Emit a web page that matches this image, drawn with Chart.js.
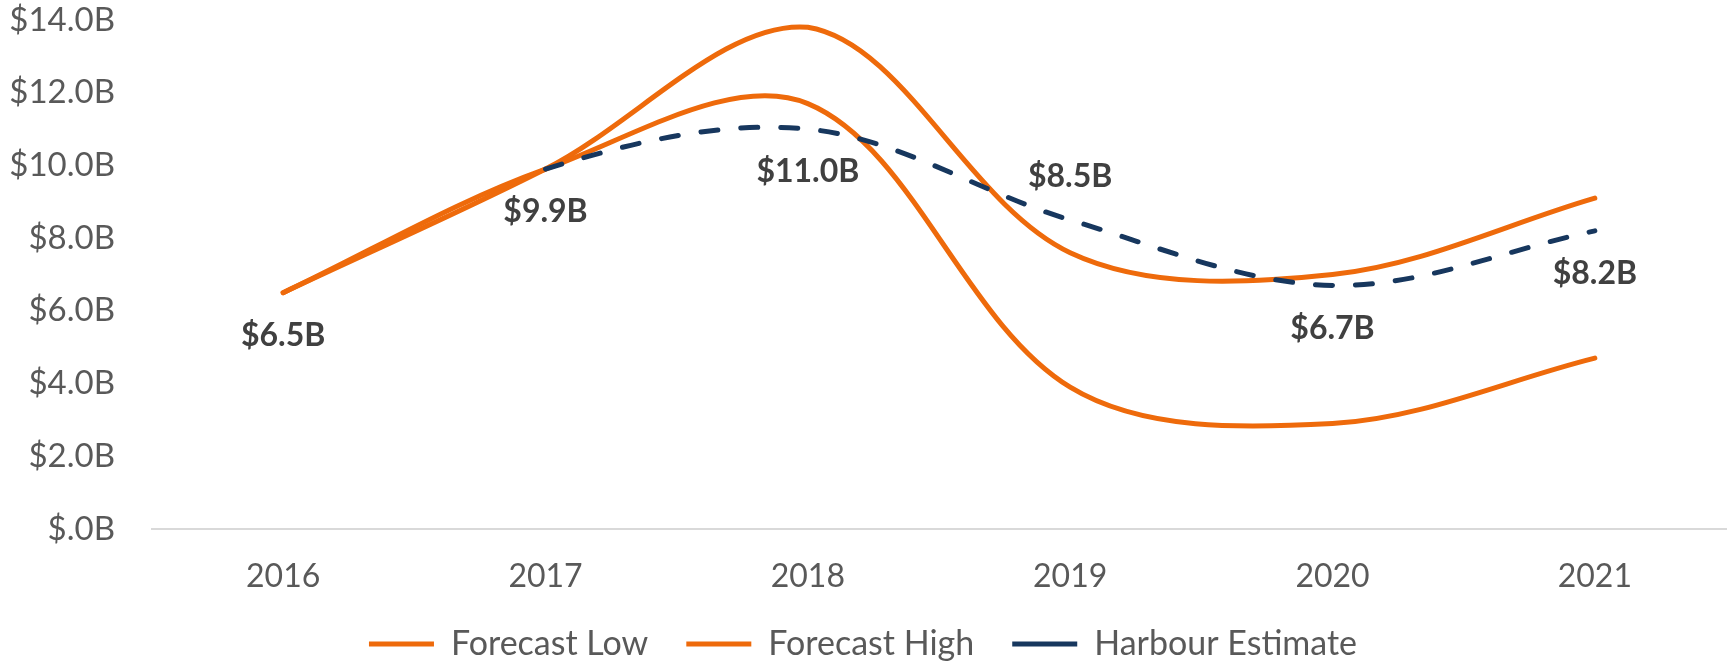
<!DOCTYPE html>
<html>
<head>
<meta charset="utf-8">
<script src="https://cdn.jsdelivr.net/npm/chart.js@4.4.1/dist/chart.umd.min.js"></script>
<style>
html,body{margin:0;padding:0;background:#ffffff;}
#wrap{width:1734px;height:664px;position:relative;}
</style>
</head>
<body>
<div id="wrap"><canvas id="c" width="1734" height="664"></canvas></div>
<script>
const categories = ['2016', '2017', '2018', '2019', '2020', '2021'];
const forecastLow = [6.5, 9.9, 11.7, 3.9, 2.9, 4.7];
const forecastHigh = [6.5, 9.9, 13.8, 7.6, 7.0, 9.1];
const harbourEstimate = [6.5, 9.9, 11.0, 8.5, 6.7, 8.2];
const yTickLabels = ['$.0B', '$2.0B', '$4.0B', '$6.0B', '$8.0B', '$10.0B', '$12.0B', '$14.0B'];
const seriesNames = ['Forecast Low', 'Forecast High', 'Harbour Estimate'];

const ORANGE = '#EE6A0B';
const NAVY = '#17375E';

const valueLabels = {
  id: 'valueLabels',
  afterDatasetsDraw(chart, args, opts) {
    const ds = chart.data.datasets[opts.datasetIndex];
    const meta = chart.getDatasetMeta(opts.datasetIndex);
    const ctx = chart.ctx;
    ctx.save();
    ctx.font = opts.font;
    ctx.fillStyle = opts.color;
    ctx.textAlign = 'center';
    ctx.textBaseline = 'middle';
    meta.data.forEach((pt, i) => {
      const v = ds.data[i];
      if (v === null || v === undefined) return;
      const dy = opts.above.includes(i) ? -opts.offset : opts.offset;
      ctx.fillText('$' + v.toFixed(1) + 'B', pt.x, pt.y + dy);
    });
    ctx.restore();
  }
};

Chart.defaults.font.family = 'Lato';

new Chart(document.getElementById('c'), {
  type: 'line',
  data: {
    labels: categories,
    datasets: [
      {
        label: seriesNames[0],
        data: forecastLow,
        borderColor: ORANGE,
        backgroundColor: ORANGE,
        borderWidth: 5,
        borderCapStyle: 'round',
        borderJoinStyle: 'round',
        tension: 0.34,
        pointRadius: 0,
        pointHoverRadius: 0,
        fill: false,
        order: 1
      },
      {
        label: seriesNames[1],
        data: forecastHigh,
        borderColor: ORANGE,
        backgroundColor: ORANGE,
        borderWidth: 5,
        borderCapStyle: 'round',
        borderJoinStyle: 'round',
        tension: 0.34,
        pointRadius: 0,
        pointHoverRadius: 0,
        fill: false,
        order: 1
      },
      {
        label: seriesNames[2],
        data: harbourEstimate,
        borderColor: NAVY,
        backgroundColor: NAVY,
        borderWidth: 5,
        borderDash: [17, 23],
        borderCapStyle: 'round',
        tension: 0.34,
        pointRadius: 0,
        pointHoverRadius: 0,
        fill: false,
        order: 0,
        segment: {
          borderColor: c => c.p0DataIndex === 0 ? 'rgba(0,0,0,0)' : undefined
        }
      }
    ]
  },
  options: {
    responsive: false,
    animation: false,
    devicePixelRatio: 1,
    layout: { padding: { top: 20, right: 8, bottom: -7, left: 0 } },
    scales: {
      x: {
        offset: true,
        grid: { display: false, drawTicks: false },
        border: { display: true, color: '#D9D9D9', width: 2 },
        ticks: { color: '#595959', font: { size: 32 }, padding: 28 },
        afterFit: s => { s.height = 60; }
      },
      y: {
        min: 0,
        max: 14,
        grid: { display: false, drawTicks: true, tickLength: 37 },
        border: { display: false },
        ticks: {
          stepSize: 2,
          color: '#595959',
          font: { size: 33 },
          padding: 0,
          callback: (v, i) => yTickLabels[i]
        },
        afterFit: s => { s.width = 152; }
      }
    },
    plugins: {
      tooltip: { enabled: false },
      legend: {
        position: 'bottom',
        labels: {
          usePointStyle: true,
          pointStyle: 'line',
          pointStyleWidth: 65,
          color: '#595959',
          font: { size: 34 },
          padding: 38,
          sort: (a, b) => a.datasetIndex - b.datasetIndex
        }
      },
      valueLabels: {
        datasetIndex: 2,
        above: [3],
        offset: 43,
        font: 'bold 32px Lato',
        color: '#404040'
      }
    }
  },
  plugins: [valueLabels]
});
</script>
</body>
</html>
